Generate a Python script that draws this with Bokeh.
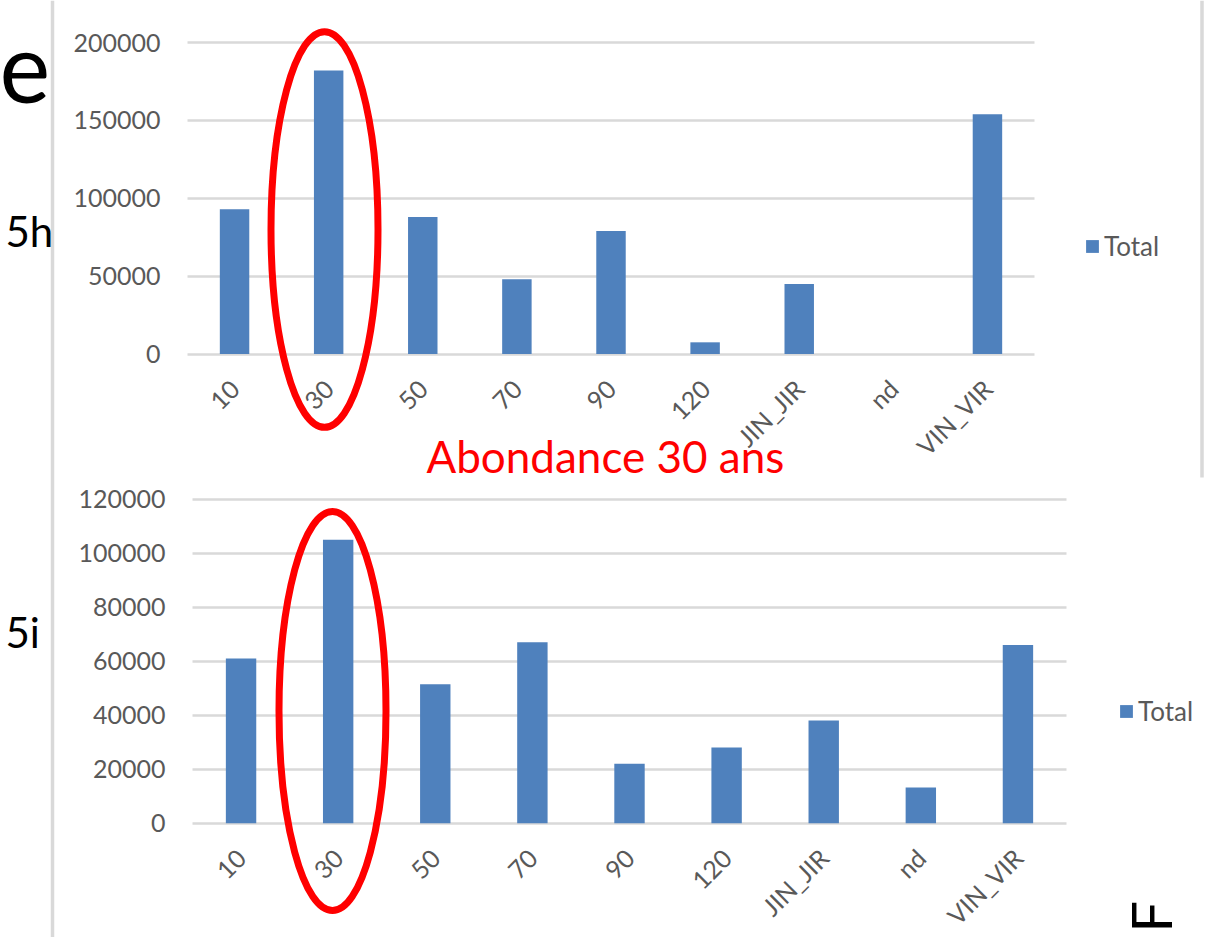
from math import pi
from bokeh.plotting import figure
from bokeh.models import (Range1d, FixedTicker, NumeralTickFormatter, LinearAxis, Grid,
                          Legend, LegendItem, Label, Span)
from bokeh.embed import file_html
from bokeh.resources import INLINE

# ---------------- data ----------------
categories = ["10", "30", "50", "70", "90", "120", "JIN_JIR", "nd", "VIN_VIR"]
totals_5h = [93000, 182000, 88000, 48000, 79000, 7500, 45000, 0, 154000]
totals_5i = [61000, 105000, 51500, 67000, 22000, 28000, 38000, 13200, 66000]
ticks_5h = [0, 50000, 100000, 150000, 200000]
ticks_5i = [0, 20000, 40000, 60000, 80000, 100000, 120000]
series_name = "Total"
panel_5h = "5h"
panel_5i = "5i"
note_text = "Abondance 30 ans"

FONT = "Lato"
BAR = "#4f81bd"
GRID = "#d9d9d9"
TICK = "#595959"
RED = "#ff0000"
W, H = 1205, 937
BASE_FIX = 0.39   # em shift so that a label's anchor sits on the visual baseline
n = len(categories)
idx = list(range(n))


def mapping(ticks, plot_left, plot_right, y0_px, ytop_px):
    c = (plot_right - plot_left) / n            # px per category
    k = (y0_px - ytop_px) / ticks[-1]            # px per value unit
    px2x = lambda px: (px - plot_left) / c - 0.5
    py2y = lambda py: (y0_px - py) / k
    return Range1d(px2x(0), px2x(W)), Range1d(py2y(H), py2y(0)), px2x, py2y, c, k


xr1, yr1, x1, y1, c1, k1 = mapping(ticks_5h, 187, 1034, 353.5, 42)
xr2, yr2, x2, y2, c2, k2 = mapping(ticks_5i, 192, 1066, 822.7, 498.7)

p = figure(x_range=xr1, y_range=yr1, width=W, height=H, output_backend="svg",
           toolbar_location=None, min_border=0, min_border_left=0, min_border_right=0,
           min_border_top=0, min_border_bottom=0)
p.extra_x_ranges = {"b": xr2}
p.extra_y_ranges = {"b": yr2}
p.outline_line_color = None
p.xgrid.grid_line_color = None
p.ygrid.grid_line_color = None


def style_axis(ax):
    ax.axis_line_color = None
    ax.major_tick_line_color = None
    ax.minor_tick_line_color = None
    ax.major_tick_out = 0
    ax.major_tick_in = 0
    ax.major_label_text_font = FONT
    ax.major_label_text_font_size = "25px"
    ax.major_label_text_color = TICK


def setup_chart(values, ticks, yaxis, xaxis, rname, legend_x, legend_cy):
    kw = {} if rname is None else dict(x_range_name=rname, y_range_name=rname)
    grid = Grid(dimension=1, ticker=FixedTicker(ticks=ticks), grid_line_color=GRID,
                grid_line_width=2.5, **kw)
    try:
        grid.cross_bounds = (-0.5, n - 0.5)
        p.add_layout(grid)
    except Exception:
        p.segment(x0=-0.5, x1=n - 0.5, y0=ticks, y1=ticks, line_color=GRID,
                  line_width=2.5, level="underlay", **kw)
    r = p.vbar(x=idx, top=values, width=0.313, fill_color=BAR, line_color=None, **kw)
    yaxis.ticker = FixedTicker(ticks=ticks)
    yaxis.formatter = NumeralTickFormatter(format="0")
    yaxis.fixed_location = -0.5
    yaxis.major_label_standoff = 27
    xaxis.ticker = FixedTicker(ticks=idx)
    xaxis.major_label_overrides = {i: cat for i, cat in enumerate(categories)}
    xaxis.fixed_location = 0
    xaxis.major_label_standoff = 30
    xaxis.major_label_orientation = pi / 4
    style_axis(yaxis)
    style_axis(xaxis)
    leg = Legend(items=[LegendItem(label=series_name, renderers=[r])],
                 location=(legend_x, H - legend_cy - 15),
                 padding=0, margin=0, spacing=0, glyph_width=16, glyph_height=16,
                 label_height=30, label_standoff=4, border_line_color=None,
                 background_fill_alpha=0, label_text_font=FONT,
                 label_text_font_size="26px", label_text_color=TICK)
    p.add_layout(leg)
    return r


# top chart (5h) on the default ranges
setup_chart(totals_5h, ticks_5h, p.yaxis[0], p.xaxis[0], None, 1084, 247)

# bottom chart (5i) on the extra ranges
ya2 = LinearAxis(x_range_name="b", y_range_name="b")
xa2 = LinearAxis(x_range_name="b", y_range_name="b")
p.add_layout(ya2, "left")
p.add_layout(xa2, "below")
setup_chart(totals_5i, ticks_5i, ya2, xa2, "b", 1118, 712)


def text(s, px, py, size, color="black", angle=0):
    fs = float(size.replace("px", ""))
    if angle:
        px -= BASE_FIX * fs
    else:
        py -= BASE_FIX * fs
    p.add_layout(Label(x=px, y=H - py, x_units="screen", y_units="screen",
                       text=s, text_font=FONT, text_font_size=size, text_color=color,
                       text_baseline="alphabetic", text_align="left", angle=angle))


# slide decorations
p.add_layout(Span(location=52, location_units="screen", dimension="height",
                  line_color=GRID, line_width=3.5))
p.segment(x0=[x1(1201.5)], x1=[x1(1201.5)], y0=[y1(0)], y1=[y1(477)],
          line_color=GRID, line_width=3.5)

# highlight ellipses around the "30" bars
p.ellipse(x=[x1(324)], y=[y1(229)], width=107 / c1, height=396 / k1,
          fill_alpha=0, line_color=RED, line_width=7)
p.ellipse(x=[x2(332)], y=[y2(710.5)], width=107 / c2, height=399 / k2,
          fill_alpha=0, line_color=RED, line_width=7, x_range_name="b", y_range_name="b")

text("e", -1, 105, "96px")
text(panel_5h, 5, 247, "42px")
text(note_text, 426, 473, "44px", color=RED)
text(panel_5i, 5, 648, "42px")
text("F", 1172, 932, "56px", angle=pi / 2)

open("out.html", "w").write(file_html(p, INLINE))
